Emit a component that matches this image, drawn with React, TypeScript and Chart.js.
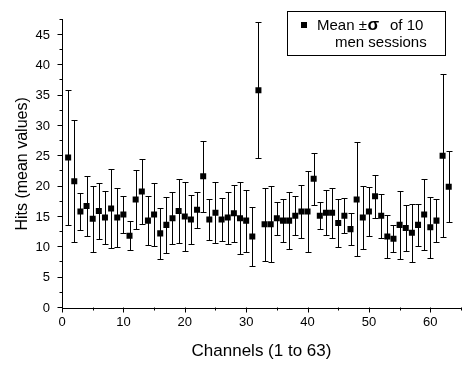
import React, { useEffect, useRef } from "react";
import { Chart, registerables } from "chart.js";

Chart.register(...registerables);

const channels = [
  1, 2, 3, 4, 5, 6, 7, 8, 9, 10, 11, 12, 13, 14, 15, 16, 17, 18, 19, 20, 21,
  22, 23, 24, 25, 26, 27, 28, 29, 30, 31, 32, 33, 34, 35, 36, 37, 38, 39, 40,
  41, 42, 43, 44, 45, 46, 47, 48, 49, 50, 51, 52, 53, 54, 55, 56, 57, 58, 59,
  60, 61, 62, 63,
];

const means = [
  24.8, 20.9, 15.9, 16.8, 14.7, 16.0, 14.9, 16.4, 14.9, 15.4, 11.9, 17.9, 19.2,
  14.4, 15.4, 12.3, 13.7, 14.8, 16.0, 15.1, 14.6, 16.2, 21.7, 14.6, 15.7, 14.6,
  14.9, 15.6, 14.8, 14.4, 11.8, 35.9, 13.8, 13.8, 14.8, 14.4, 14.4, 15.2, 15.9,
  15.9, 21.3, 15.2, 15.7, 15.7, 14.0, 15.2, 13.0, 17.9, 14.9, 15.9, 18.4, 15.2,
  11.8, 11.4, 13.7, 13.2, 12.4, 13.7, 15.4, 13.3, 14.4, 25.1, 20.0,
];

const sigmas = [
  11.1, 10.1, 3.0, 4.9, 5.4, 4.6, 4.4, 6.5, 4.8, 3.0, 2.4, 4.8, 5.4, 4.0, 5.2,
  4.2, 4.6, 4.3, 5.3, 5.7, 4.0, 3.0, 5.9, 3.4, 5.0, 3.5, 4.3, 4.7, 5.9, 5.1,
  4.8, 11.2, 6.0, 6.3, 2.7, 3.6, 4.7, 3.2, 4.4, 6.7, 4.3, 2.2, 3.7, 4.1, 3.9,
  2.9, 2.6, 9.4, 5.2, 4.1, 3.5, 3.6, 3.6, 2.2, 5.6, 3.8, 4.8, 3.4, 5.9, 5.0,
  3.6, 13.4, 5.9,
];

const xAxisMin = 0;
const xAxisMax = 65;
const xTickStep = 5;
const xLabelEvery = 10;
const yAxisMin = 0;
const yAxisMax = 47.5;
const yTickStep = 2.5;
const yLabelEvery = 5;

const xTitle = "Channels (1 to 63)";
const yTitle = "Hits (mean values)";
const legendLine1a = "Mean ±";
const legendSigma = "σ";
const legendLine1b = "of 10";
const legendLine2 = "men sessions";

const FONT = '"Liberation Sans", Arial, sans-serif';

const errorBarsPlugin = {
  id: "errorBars",
  beforeDatasetsDraw(chart: any) {
    const { ctx, scales } = chart;
    const x = scales.x;
    const y = scales.y;
    ctx.save();
    ctx.strokeStyle = "#000";
    ctx.lineWidth = 1;
    ctx.beginPath();
    channels.forEach((c, i) => {
      const px = Math.round(x.getPixelForValue(c)) + 0.5;
      const top = Math.round(y.getPixelForValue(means[i] + sigmas[i])) + 0.5;
      const bot = Math.round(y.getPixelForValue(means[i] - sigmas[i])) + 0.5;
      ctx.moveTo(px, top);
      ctx.lineTo(px, bot);
      ctx.moveTo(px - 3, top);
      ctx.lineTo(px + 3, top);
      ctx.moveTo(px - 3, bot);
      ctx.lineTo(px + 3, bot);
    });
    ctx.stroke();
    ctx.restore();
  },
};

const axisTicksPlugin = {
  id: "axisTicks",
  afterDraw(chart: any) {
    const { ctx, scales, chartArea } = chart;
    const x = scales.x;
    const y = scales.y;
    ctx.save();
    ctx.strokeStyle = "#000";
    ctx.lineWidth = 1;
    ctx.beginPath();
    x.ticks.forEach((t: any) => {
      const px = Math.round(x.getPixelForValue(t.value)) + 0.5;
      const len = Math.abs(t.value % xLabelEvery) < 1e-6 ? 5 : 3;
      const b = Math.round(chartArea.bottom) - 0.5;
      ctx.moveTo(px, b);
      ctx.lineTo(px, b + len);
    });
    y.ticks.forEach((t: any) => {
      const py = Math.round(y.getPixelForValue(t.value)) - 0.5;
      const len = Math.abs(t.value % yLabelEvery) < 1e-6 ? 5 : 3;
      const l = Math.round(chartArea.left) + 0.5;
      ctx.moveTo(l, py);
      ctx.lineTo(l - len, py);
    });
    ctx.stroke();
    ctx.restore();
  },
};

const legendPlugin = {
  id: "boxLegend",
  afterDraw(chart: any) {
    const { ctx } = chart;
    ctx.save();
    ctx.strokeStyle = "#000";
    ctx.lineWidth = 1;
    ctx.strokeRect(287.5, 11.5, 158, 44);
    ctx.fillStyle = "#000";
    ctx.fillRect(301, 22, 6, 6);
    ctx.textBaseline = "alphabetic";
    ctx.textAlign = "left";
    ctx.font = `15px ${FONT}`;
    ctx.fillText(legendLine1a, 317, 30);
    ctx.fillText(legendLine1b, 390, 30);
    ctx.fillText(legendLine2, 335, 47);
    ctx.font = `bold 17px ${FONT}`;
    ctx.fillText(legendSigma, 367.5, 30);
    ctx.restore();
  },
};

export default function App() {
  const canvasRef = useRef<HTMLCanvasElement | null>(null);

  useEffect(() => {
    const canvas = canvasRef.current;
    if (!canvas) return;
    const chart = new Chart(canvas, {
      type: "scatter",
      data: {
        datasets: [
          {
            label: "Mean ± σ of 10 men sessions",
            data: channels.map((c, i) => ({ x: c, y: means[i] })),
            pointStyle: "rect",
            pointRadius: 4.25,
            pointHoverRadius: 4.25,
            backgroundColor: "#000",
            borderColor: "#000",
            borderWidth: 0,
            showLine: false,
          },
        ],
      },
      options: {
        responsive: false,
        animation: false,
        devicePixelRatio: 1,
        events: [],
        layout: { padding: { top: 8, right: 11, left: 0, bottom: 0 } },
        plugins: {
          legend: { display: false },
          tooltip: { enabled: false },
        },
        scales: {
          x: {
            type: "linear",
            min: xAxisMin,
            max: xAxisMax,
            afterFit: (s: any) => {
              s.height = 60;
            },
            grid: { display: false, drawTicks: false },
            border: { display: true, color: "#000", width: 1 },
            ticks: {
              stepSize: xTickStep,
              autoSkip: false,
              maxRotation: 0,
              padding: 7,
              color: "#000",
              font: { family: FONT, size: 13 },
              callback: (v: any) =>
                Math.abs(Number(v) % xLabelEvery) < 1e-6 ? String(v) : "",
            },
            title: {
              display: true,
              text: xTitle,
              color: "#000",
              font: { family: FONT, size: 17 },
              padding: { top: 0, bottom: 6 },
            },
          },
          y: {
            type: "linear",
            min: yAxisMin,
            max: yAxisMax,
            afterFit: (s: any) => {
              s.width = 62;
            },
            grid: { display: false, drawTicks: false },
            border: { display: true, color: "#000", width: 1 },
            ticks: {
              stepSize: yTickStep,
              autoSkip: false,
              padding: 12,
              color: "#000",
              font: { family: FONT, size: 13 },
              callback: (v: any) =>
                Math.abs(Number(v) % yLabelEvery) < 1e-6 ? String(v) : "",
            },
            title: {
              display: true,
              text: yTitle,
              color: "#000",
              font: { family: FONT, size: 16 },
              padding: { top: 13, bottom: 0 },
            },
          },
        },
      },
      plugins: [errorBarsPlugin, axisTicksPlugin, legendPlugin],
    });
    return () => chart.destroy();
  }, []);

  return (
    <div
      style={{
        position: "absolute",
        left: 0,
        top: 0,
        width: 472,
        height: 368,
        background: "#fff",
      }}
    >
      <canvas ref={canvasRef} width={472} height={368} />
    </div>
  );
}
